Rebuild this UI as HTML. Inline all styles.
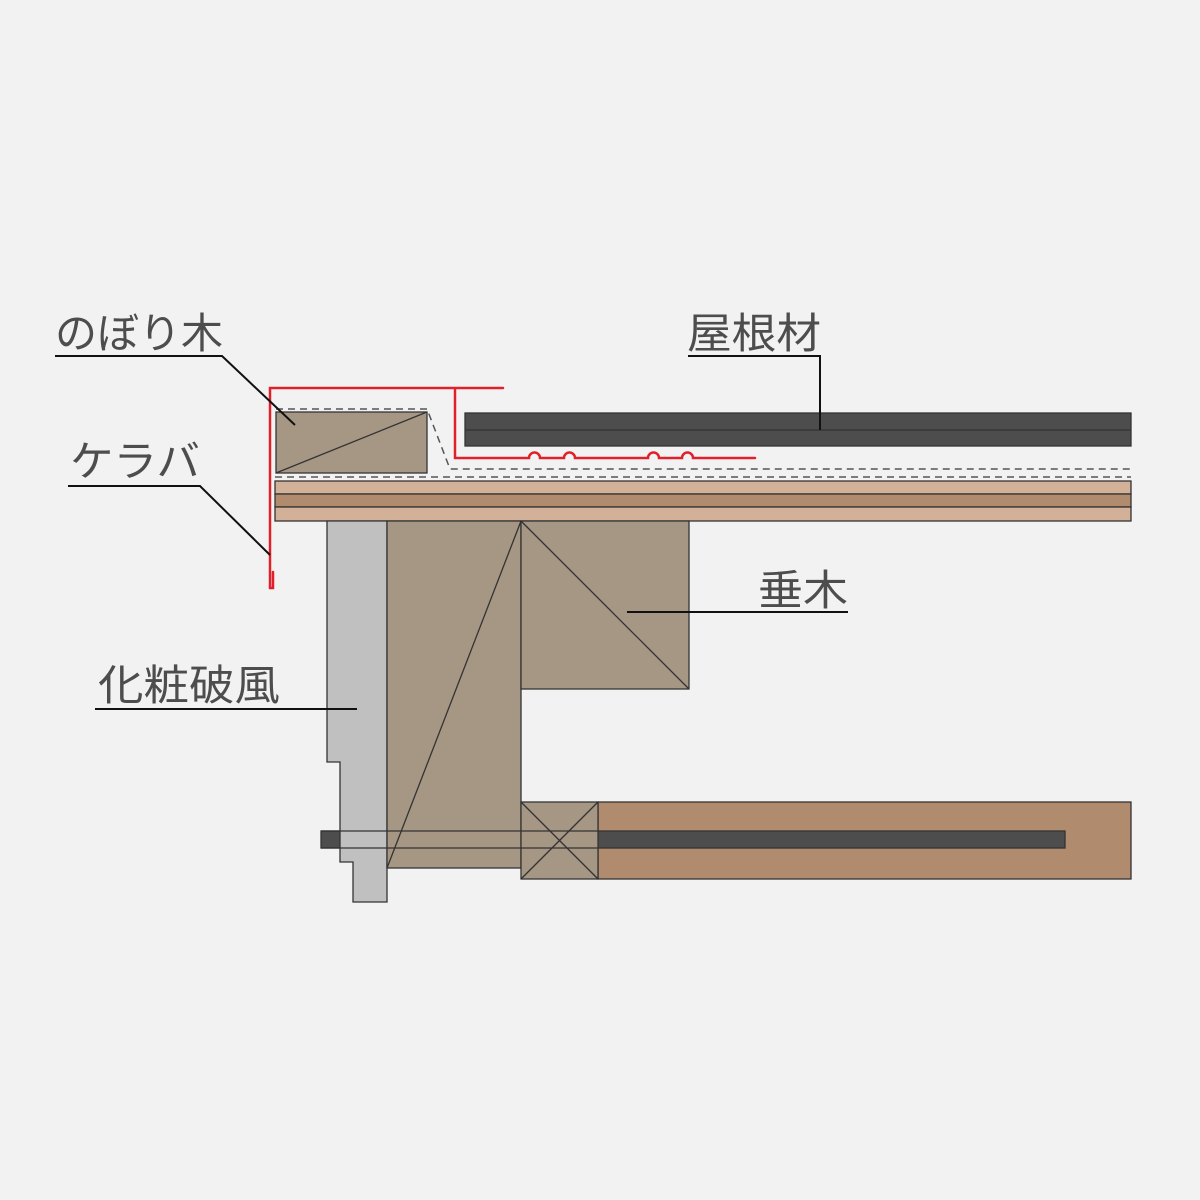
<!DOCTYPE html>
<html><head><meta charset="utf-8"><style>html,body{margin:0;padding:0;background:#f2f2f2}svg{display:block}</style></head>
<body>
<svg width="1200" height="1200" viewBox="0 0 1200 1200" xmlns="http://www.w3.org/2000/svg">
<rect width="1200" height="1200" fill="#f2f2f2"/>
<g stroke="#333" stroke-width="1.3">
<rect x="275" y="481" width="856" height="13" fill="#d3b098"/>
<rect x="275" y="494" width="856" height="13" fill="#b08b6e"/>
<rect x="275" y="507" width="856" height="14" fill="#d3b098"/>
<rect x="598" y="802" width="533" height="77" fill="#b08b6e"/>
<rect x="321" y="831" width="744" height="17" fill="#4d4d4d"/>
<polygon points="327,521 387,521 387,902 353,902 353,862 340,862 340,762 327,762" fill="#c0c0c0"/>
<rect x="387" y="521" width="134" height="347" fill="#a69684"/>
<line x1="387" y1="868" x2="521" y2="521"/>
<rect x="521" y="521" width="168" height="168" fill="#a69684"/>
<line x1="521" y1="521" x2="689" y2="689"/>
<rect x="521" y="802" width="77" height="77" fill="#a69684"/>
<line x1="521" y1="802" x2="598" y2="879"/><line x1="598" y1="802" x2="521" y2="879"/>
<line x1="321" y1="831" x2="598" y2="831"/><line x1="321" y1="848" x2="598" y2="848"/>
<rect x="276" y="412" width="151" height="61" fill="#a69684"/>
<line x1="276" y1="473" x2="427" y2="412"/>
<rect x="465" y="413" width="666" height="33" fill="#4d4d4d"/>
<line x1="465" y1="430" x2="1131" y2="430"/>
</g>
<g fill="none" stroke="#555" stroke-width="1.5" stroke-dasharray="7,5">
<line x1="275" y1="477" x2="1131" y2="477"/>
<polyline points="276,409 427,409 450,469 1131,469"/>
</g>
<g fill="none" stroke="#e0202a" stroke-width="2.5" stroke-linejoin="miter" stroke-linecap="round">
<polyline points="270,588 270,388 503,388"/>
<path d="M270,588 L273,588 L273,572"/>
<path d="M455,390 L455,458 L529,458 a5,5 0 0 1 11,0 L564,458 a5,5 0 0 1 11,0 L648,458 a5,5 0 0 1 11,0 L682,458 a5,5 0 0 1 11,0 L755,458"/>
</g>
<g fill="none" stroke="#111" stroke-width="2">
<polyline points="55,356 222,356 295,425"/>
<polyline points="68,486 200,486 270,555"/>
<polyline points="688,356 820,356 820,430"/>
<line x1="627" y1="612" x2="848" y2="612"/>
<line x1="95" y1="709" x2="357" y2="709"/>
</g>
<g font-family="'Liberation Sans','Noto Sans CJK JP',sans-serif" font-size="42" fill="#4d4d4d">
<text x="55" y="348" textLength="168" lengthAdjust="spacingAndGlyphs">のぼり木</text>
<text x="70" y="476" textLength="130" lengthAdjust="spacingAndGlyphs">ケラバ</text>
<text x="687" y="348" textLength="134" lengthAdjust="spacingAndGlyphs">屋根材</text>
<text x="758" y="605" textLength="90" lengthAdjust="spacingAndGlyphs">垂木</text>
<text x="98" y="700" textLength="182" lengthAdjust="spacingAndGlyphs">化粧破風</text>
</g>
</svg>
</body></html>
